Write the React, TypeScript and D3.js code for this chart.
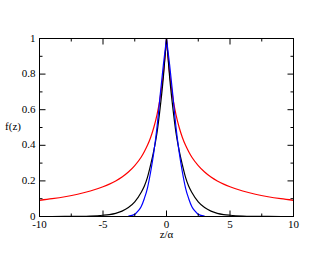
import React, { useEffect, useRef } from 'react';
import * as d3 from 'd3';

// values for z >= 0 (curves are symmetric about z = 0)
const zRed = [0, 0.25, 0.5, 0.75, 1, 1.25, 1.5, 1.75, 2, 2.5, 3, 3.5, 4, 4.5, 5, 6, 7, 8, 9, 10];
const redValues = [1, 0.8, 0.667, 0.571, 0.5, 0.444, 0.4, 0.364, 0.333, 0.286, 0.25, 0.222, 0.2, 0.182, 0.167, 0.143, 0.125, 0.111, 0.1, 0.091];

const zBlack = [0, 0.25, 0.5, 0.75, 1, 1.25, 1.5, 1.75, 2, 2.5, 3, 3.5, 4, 4.5, 5, 6, 7, 8, 10];
const blackValues = [1, 0.78, 0.61, 0.47, 0.37, 0.29, 0.22, 0.17, 0.135, 0.082, 0.05, 0.03, 0.018, 0.011, 0.007, 0.0025, 0.001, 0.0003, 0];

const zBlue = [0, 0.25, 0.5, 0.75, 1, 1.25, 1.5, 1.75, 2, 2.25, 2.5, 3];
const blueValues = [1, 0.85, 0.68, 0.5, 0.36, 0.25, 0.16, 0.1, 0.055, 0.03, 0.012, 0.002];

const xTicks = [-10, -5, 0, 5, 10];
const yTicks = [0, 0.2, 0.4, 0.6, 0.8, 1];

export default function App() {
  const svgRef = useRef<SVGSVGElement | null>(null);
  const width = 330;
  const height = 255;

  useEffect(() => {
    const svg = d3.select(svgRef.current!);
    svg.selectAll('*').remove();
    const margin = { top: 38.5, right: 36.5, bottom: 38.5, left: 39.5 };

    const x = d3
      .scaleLinear()
      .domain([-10, 10])
      .range([margin.left, width - margin.right]);
    const y = d3
      .scaleLinear()
      .domain([0, 1])
      .range([height - margin.bottom, margin.top]);

    const font = "'Liberation Serif', 'Times New Roman', serif";

    svg
      .append('clipPath')
      .attr('id', 'plot-clip')
      .append('rect')
      .attr('x', margin.left)
      .attr('y', margin.top - 1)
      .attr('width', x(10) - x(-10))
      .attr('height', y(0) - y(1) + 1);

    const plot = svg.append('g').attr('clip-path', 'url(#plot-clip)');

    const line = d3
      .line<[number, number]>()
      .x((d) => x(d[0]))
      .y((d) => y(d[1]))
      .curve(d3.curveMonotoneX);

    function drawCurve(zs: number[], vals: number[], color: string) {
      const right = zs.map((z, i) => [z, vals[i]] as [number, number]);
      const left = zs.map((z, i) => [-z, vals[i]] as [number, number]).reverse();
      plot.append('path').attr('d', line(left)).attr('fill', 'none').attr('stroke', color).attr('stroke-width', 1.2);
      plot.append('path').attr('d', line(right)).attr('fill', 'none').attr('stroke', color).attr('stroke-width', 1.2);
    }

    drawCurve(zRed, redValues, '#ff0000');
    drawCurve(zBlack, blackValues, '#000000');
    drawCurve(zBlue, blueValues, '#0000ff');

    // frame
    svg
      .append('rect')
      .attr('x', x(-10))
      .attr('y', y(1))
      .attr('width', x(10) - x(-10))
      .attr('height', y(0) - y(1))
      .attr('fill', 'none')
      .attr('stroke', '#000')
      .attr('stroke-width', 1);

    // inward ticks on all sides
    const xMinor = d3.range(-10, 10.01, 2.5);
    const yMinor = d3.range(0, 1.001, 0.1);
    const ticks = svg.append('g').attr('stroke', '#000').attr('stroke-width', 1);
    xMinor.forEach((t) => {
      const len = xTicks.includes(t) ? 6 : 3;
      ticks.append('line').attr('x1', x(t)).attr('x2', x(t)).attr('y1', y(0)).attr('y2', y(0) - len);
      ticks.append('line').attr('x1', x(t)).attr('x2', x(t)).attr('y1', y(1)).attr('y2', y(1) + len);
    });
    yMinor.forEach((t, i) => {
      const len = i % 2 === 0 ? 6 : 3;
      ticks.append('line').attr('x1', x(-10)).attr('x2', x(-10) + len).attr('y1', y(t)).attr('y2', y(t));
      ticks.append('line').attr('x1', x(10)).attr('x2', x(10) - len).attr('y1', y(t)).attr('y2', y(t));
    });

    // tick labels
    svg
      .append('g')
      .selectAll('text')
      .data(xTicks)
      .join('text')
      .attr('x', (d) => x(d))
      .attr('y', y(0) + 11)
      .attr('text-anchor', 'middle')
      .attr('font-family', font)
      .attr('font-size', 11)
      .text((d) => String(d));

    svg
      .append('g')
      .selectAll('text')
      .data(yTicks)
      .join('text')
      .attr('x', x(-10) - 4)
      .attr('y', (d) => y(d) + 3)
      .attr('text-anchor', 'end')
      .attr('font-family', font)
      .attr('font-size', 11)
      .text((d) => String(d));

    // axis titles
    svg
      .append('text')
      .attr('x', (x(-10) + x(10)) / 2)
      .attr('y', y(0) + 21.5)
      .attr('text-anchor', 'middle')
      .attr('font-family', font)
      .attr('font-size', 11)
      .text('z/α');

    svg
      .append('text')
      .attr('x', 13)
      .attr('y', 130)
      .attr('text-anchor', 'middle')
      .attr('font-family', font)
      .attr('font-size', 11)
      .text('f(z)');
  }, []);

  return (
    <svg
      ref={svgRef}
      width={width}
      height={height}
      style={{ position: 'absolute', left: 0, top: 0, background: '#fff' }}
    />
  );
}
